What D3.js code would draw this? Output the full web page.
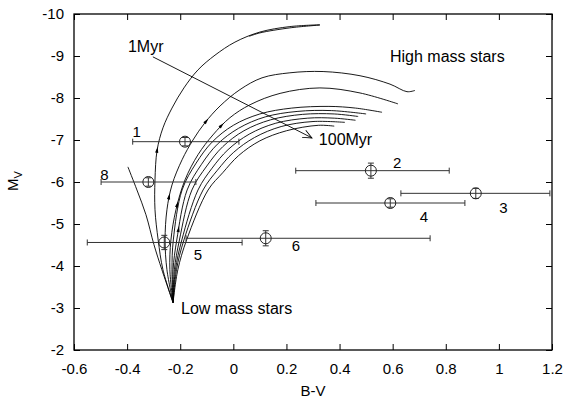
<!DOCTYPE html>
<html>
<head>
<meta charset="utf-8">
<script src="https://cdn.jsdelivr.net/npm/d3@7"></script>
<style>
  body { margin: 0; background: #fff; }
  svg text { font-family: "Liberation Sans", Arial, sans-serif; fill: #000; }
</style>
</head>
<body>
<div id="chart"></div>
<script>
// axis ticks
const xTicks = [-0.6, -0.4, -0.2, 0, 0.2, 0.4, 0.6, 0.8, 1, 1.2];
const yTicks = [-10, -9, -8, -7, -6, -5, -4, -3, -2];

// observed clusters (B-V, M_V) with error bars
const ids   = ["1", "2", "3", "4", "5", "6", "8"];
const bv    = [-0.182, 0.518, 0.913, 0.591, -0.26, 0.122, -0.32];
const mv    = [-6.96, -6.27, -5.73, -5.50, -4.56, -4.66, -6.00];
const bvLo  = [-0.379, 0.235, 0.631, 0.311, -0.55, -0.178, -0.498];
const bvHi  = [0.021, 0.813, 1.192, 0.872, 0.033, 0.741, -0.141];
const mvErr = [0.1, 0.18, 0.12, 0.1, 0.17, 0.18, 0.1];
const labelBV = [-0.364, 0.617, 1.017, 0.718, -0.133, 0.236, -0.485];
const labelMV = [-7.06, -6.34, -5.27, -5.04, -4.15, -4.36, -6.05];

// evolutionary tracks, each a list of [B-V, M_V]
const trackLeft = [[-0.227,-3.13],[-0.269,-3.91],[-0.299,-4.51],[-0.329,-5.22],[-0.363,-5.81],[-0.397,-6.36]];
const track1 = [[-0.227,-3.13],[-0.265,-3.91],[-0.283,-4.62],[-0.295,-5.34],[-0.295,-6.05],[-0.287,-6.76],
  [-0.265,-7.29],[-0.231,-7.76],[-0.186,-8.24],[-0.133,-8.67],[-0.069,-9.02],[0.006,-9.33],[0.100,-9.57],
  [0.213,-9.70],[0.326,-9.74],[0.213,-9.67],[0.10,-9.55],[0.06,-9.47]];
const track2 = [[-0.227,-3.13],[-0.250,-3.91],[-0.257,-4.62],[-0.250,-5.34],[-0.231,-5.93],[-0.193,-6.53],
  [-0.152,-7.00],[-0.107,-7.41],[-0.050,-7.81],[0.025,-8.20],[0.108,-8.48],[0.213,-8.60],[0.338,-8.63],
  [0.477,-8.53],[0.590,-8.33],[0.654,-8.15],[0.684,-8.18]];
const track3 = [[-0.227,-3.13],[-0.239,-3.91],[-0.235,-4.62],[-0.216,-5.34],[-0.182,-6.05],[-0.133,-6.65],
  [-0.077,-7.12],[-0.013,-7.53],[0.063,-7.84],[0.176,-8.11],[0.326,-8.24],[0.477,-8.12],[0.620,-7.86]];
const bundle1 = [[-0.227,-3.13],[-0.231,-3.91],[-0.226,-4.62],[-0.193,-5.81],[-0.14,-6.45],[-0.08,-6.95],
  [0.0,-7.35],[0.10,-7.62],[0.22,-7.76],[0.36,-7.80],[0.46,-7.76],[0.56,-7.66]];
const bundle2 = [[-0.227,-3.13],[-0.227,-3.91],[-0.213,-4.62],[-0.174,-5.81],[-0.12,-6.42],[-0.06,-6.90],
  [0.02,-7.28],[0.12,-7.55],[0.24,-7.68],[0.37,-7.70],[0.50,-7.62]];
const bundle3 = [[-0.227,-3.13],[-0.222,-3.91],[-0.203,-4.62],[-0.156,-5.81],[-0.10,-6.38],[-0.04,-6.84],
  [0.04,-7.22],[0.14,-7.48],[0.26,-7.61],[0.38,-7.62],[0.47,-7.56]];
const bundle4 = [[-0.227,-3.13],[-0.218,-3.91],[-0.194,-4.62],[-0.133,-5.81],[-0.08,-6.33],[-0.02,-6.77],
  [0.06,-7.14],[0.16,-7.40],[0.28,-7.52],[0.38,-7.52],[0.46,-7.47]];
const bundle5 = [[-0.227,-3.13],[-0.214,-3.91],[-0.186,-4.62],[-0.114,-5.81],[-0.06,-6.28],[0.0,-6.70],
  [0.08,-7.06],[0.18,-7.32],[0.30,-7.44],[0.42,-7.42]];
const bundle6 = [[-0.227,-3.13],[-0.209,-3.91],[-0.176,-4.62],[-0.095,-5.81],[-0.04,-6.22],[0.02,-6.63],
  [0.10,-6.98],[0.20,-7.22],[0.32,-7.35],[0.38,-7.33]];
const tracks = [trackLeft, track1, track2, track3, bundle1, bundle2, bundle3, bundle4, bundle5, bundle6];

// small direction arrows on tracks: [track index, M_V where it sits]
const trackArrows = [[1, -6.76], [2, -5.65], [3, -5.45], [5, -4.86], [2, -7.45], [3, -7.35]];

// annotations
const notes = [
  { text: "1Myr", bv: -0.397, mv: -9.09 },
  { text: "100Myr", bv: 0.322, mv: -6.87 },
  { text: "High mass stars", bv: 0.590, mv: -8.86 },
  { text: "Low mass stars", bv: -0.197, mv: -2.86 }
];
const ageArrow = [[-0.303, -8.98], [0.296, -7.05]];

let margin = { top: 14, left: 74, right: 14, bottom: 51 },
    width = 566 - margin.left - margin.right,
    height = 401 - margin.top - margin.bottom;

let svg = d3.select("#chart").append("svg")
    .attr("width", 566).attr("height", 401)
    .append("g")
    .attr("transform", "translate(" + margin.left + "," + margin.top + ")");

let x = d3.scaleLinear().domain([-0.6, 1.2]).range([0, width]);
let y = d3.scaleLinear().domain([-2, -10]).range([height, 0]);

let fmt = d => String(+d.toFixed(1));

// axes, ticks pointing inward
let ax = svg.append("g").attr("transform", "translate(0," + height + ")")
    .call(d3.axisBottom(x).tickValues(xTicks).tickFormat(fmt).tickSizeInner(-6).tickSizeOuter(0).tickPadding(13));
let ay = svg.append("g")
    .call(d3.axisLeft(y).tickValues(yTicks).tickFormat(fmt).tickSizeInner(-6).tickSizeOuter(0).tickPadding(10));
let at = svg.append("g")
    .call(d3.axisTop(x).tickValues(xTicks).tickFormat("").tickSizeInner(-6).tickSizeOuter(0));
let ar = svg.append("g").attr("transform", "translate(" + width + ",0)")
    .call(d3.axisRight(y).tickValues(yTicks).tickFormat("").tickSizeInner(-6).tickSizeOuter(0));

[ax, ay, at, ar].forEach(a => {
    a.select(".domain").remove();
    a.selectAll("line").attr("stroke", "#000");
    a.selectAll("text").style("font-size", "15px");
});

// frame
svg.append("rect")
    .attr("width", width).attr("height", height)
    .attr("fill", "none").attr("stroke", "#000").attr("stroke-width", 1.3);

// axis titles
svg.append("text")
    .attr("x", width / 2).attr("y", height + 46)
    .attr("text-anchor", "middle").style("font-size", "15px")
    .text("B-V");

let mvLabel = svg.append("text")
    .attr("transform", "translate(" + (-56) + "," + (height / 2 - 1) + ") rotate(-90)")
    .attr("text-anchor", "middle").style("font-size", "15px");
mvLabel.append("tspan").text("M");
mvLabel.append("tspan").attr("dy", 4).style("font-size", "11px").text("V");

// tracks
let line = d3.line().x(d => x(d[0])).y(d => y(d[1])).curve(d3.curveCatmullRom.alpha(0.5));

let paths = svg.selectAll(".track")
    .data(tracks)
    .enter()
    .append("path")
    .attr("class", "track")
    .attr("d", line)
    .attr("fill", "none")
    .attr("stroke", "#000")
    .attr("stroke-width", 0.9);

// little arrows along the tracks
trackArrows.forEach(([ti, m]) => {
    let node = paths.nodes()[ti];
    let len = node.getTotalLength();
    let target = y(m), prev = node.getPointAtLength(0);
    for (let l = 1; l < len; l += 1) {
        let p = node.getPointAtLength(l);
        if (p.y <= target) {
            let ang = Math.atan2(p.y - prev.y, p.x - prev.x) * 180 / Math.PI;
            svg.append("path")
                .attr("d", "M3,0 L-3,-1.6 L-3,1.6 Z")
                .attr("fill", "#000")
                .attr("transform", "translate(" + p.x + "," + p.y + ") rotate(" + ang + ")");
            break;
        }
        prev = p;
    }
});

// age arrow 1Myr -> 100Myr
svg.append("line")
    .attr("x1", x(ageArrow[0][0])).attr("y1", y(ageArrow[0][1]))
    .attr("x2", x(ageArrow[1][0])).attr("y2", y(ageArrow[1][1]))
    .attr("stroke", "#000").attr("stroke-width", 0.9);
{
    let x1 = x(ageArrow[0][0]), y1 = y(ageArrow[0][1]), x2 = x(ageArrow[1][0]), y2 = y(ageArrow[1][1]);
    let ang = Math.atan2(y2 - y1, x2 - x1) * 180 / Math.PI;
    svg.append("path")
        .attr("d", "M-9,-4 L0,0 L-9,4")
        .attr("fill", "none").attr("stroke", "#000").attr("stroke-width", 0.9)
        .attr("transform", "translate(" + x2 + "," + y2 + ") rotate(" + ang + ")");
}

// error bars
let pts = ids.map((id, i) => ({ id: id, bv: bv[i], mv: mv[i], lo: bvLo[i], hi: bvHi[i], e: mvErr[i], lx: labelBV[i], ly: labelMV[i] }));

let g = svg.selectAll(".obs").data(pts).enter().append("g").attr("class", "obs");
g.append("line")
    .attr("x1", d => x(d.lo)).attr("x2", d => x(d.hi))
    .attr("y1", d => y(d.mv)).attr("y2", d => y(d.mv));
g.append("line")
    .attr("x1", d => x(d.lo)).attr("x2", d => x(d.lo))
    .attr("y1", d => y(d.mv) - 3).attr("y2", d => y(d.mv) + 3);
g.append("line")
    .attr("x1", d => x(d.hi)).attr("x2", d => x(d.hi))
    .attr("y1", d => y(d.mv) - 3).attr("y2", d => y(d.mv) + 3);
g.append("line")
    .attr("x1", d => x(d.bv)).attr("x2", d => x(d.bv))
    .attr("y1", d => y(d.mv - d.e)).attr("y2", d => y(d.mv + d.e));
g.append("line")
    .attr("x1", d => x(d.bv) - 3).attr("x2", d => x(d.bv) + 3)
    .attr("y1", d => y(d.mv - d.e)).attr("y2", d => y(d.mv - d.e));
g.append("line")
    .attr("x1", d => x(d.bv) - 3).attr("x2", d => x(d.bv) + 3)
    .attr("y1", d => y(d.mv + d.e)).attr("y2", d => y(d.mv + d.e));
g.selectAll("line").attr("stroke", "#333").attr("stroke-width", 1);
g.append("circle")
    .attr("cx", d => x(d.bv)).attr("cy", d => y(d.mv)).attr("r", 5.5)
    .attr("fill", "none").attr("stroke", "#222").attr("stroke-width", 1);
g.append("text")
    .attr("x", d => x(d.lx)).attr("y", d => y(d.ly))
    .attr("text-anchor", "middle").style("font-size", "15px")
    .text(d => d.id);

// text notes
svg.selectAll(".note").data(notes).enter().append("text")
    .attr("class", "note")
    .attr("x", d => x(d.bv)).attr("y", d => y(d.mv))
    .style("font-size", "16px")
    .text(d => d.text);
</script>
</body>
</html>
